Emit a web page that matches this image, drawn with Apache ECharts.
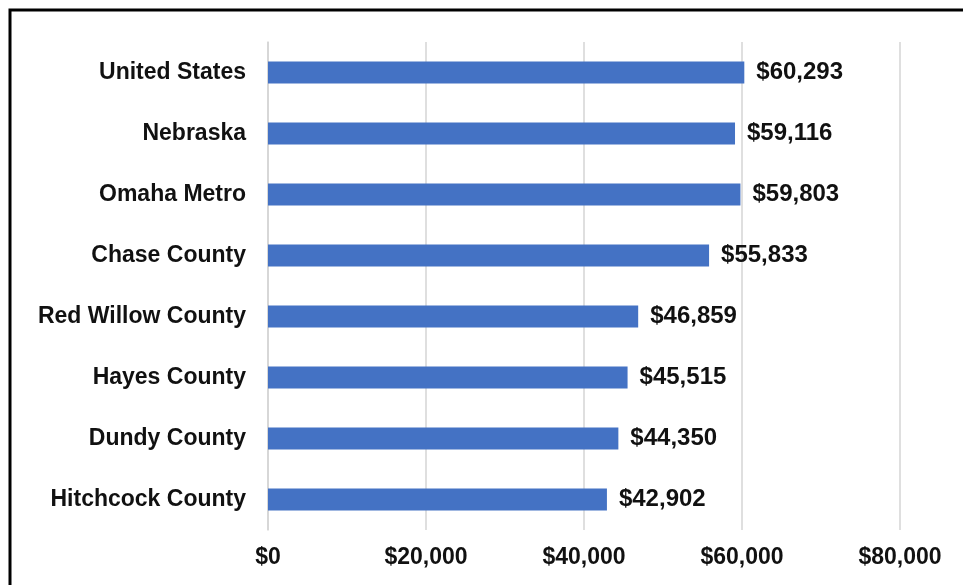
<!DOCTYPE html>
<html><head><meta charset="utf-8">
<script src="https://cdn.jsdelivr.net/npm/echarts@6/dist/echarts.min.js"></script>
<style>html,body{margin:0;padding:0;background:#fff}#c{width:963px;height:585px}</style>
</head><body><div id="c"></div>
<script>
const categories = ["United States","Nebraska","Omaha Metro","Chase County","Red Willow County","Hayes County","Dundy County","Hitchcock County"];
const values = [60293, 59116, 59803, 55833, 46859, 45515, 44350, 42902];
const tickLabels = ["$0","$20,000","$40,000","$60,000","$80,000"];

const fmt = v => '$' + String(v).replace(/\B(?=(\d{3})+(?!\d))/g, ',');
const font = '"Liberation Sans", Arial, sans-serif';
const chart = echarts.init(document.getElementById('c'));
chart.setOption({
  animation: false,
  backgroundColor: '#fff',
  grid: {left: 268, right: 63, top: 42, bottom: 55},
  xAxis: {
    type: 'value', min: 0, max: 80000, interval: 20000,
    axisLine: {show: false}, axisTick: {show: false},
    splitLine: {lineStyle: {color: '#d4d4d4', width: 1.5}},
    axisLabel: {
      margin: 16, fontSize: 23, fontWeight: 'bold', color: '#111', fontFamily: font,
      formatter: v => tickLabels[Math.round(v / 20000)]
    }
  },
  yAxis: {
    type: 'category', data: categories, inverse: true,
    axisLine: {show: true, lineStyle: {color: '#d4d4d4', width: 1.5}},
    axisTick: {show: false},
    axisLabel: {margin: 22, fontSize: 23, fontWeight: 'bold', color: '#111', fontFamily: font}
  },
  series: [{
    type: 'bar', data: values, barWidth: 22,
    itemStyle: {color: '#4472C4'},
    label: {
      show: true, position: 'right', distance: 12,
      fontSize: 24, fontWeight: 'bold', color: '#111', fontFamily: font,
      formatter: p => fmt(p.value)
    }
  }],
  graphic: [{
    type: 'polyline',
    shape: {points: [[10, 585], [10, 10], [963, 10]]},
    style: {stroke: '#000', lineWidth: 3, fill: null}
  }]
});
</script></body></html>
